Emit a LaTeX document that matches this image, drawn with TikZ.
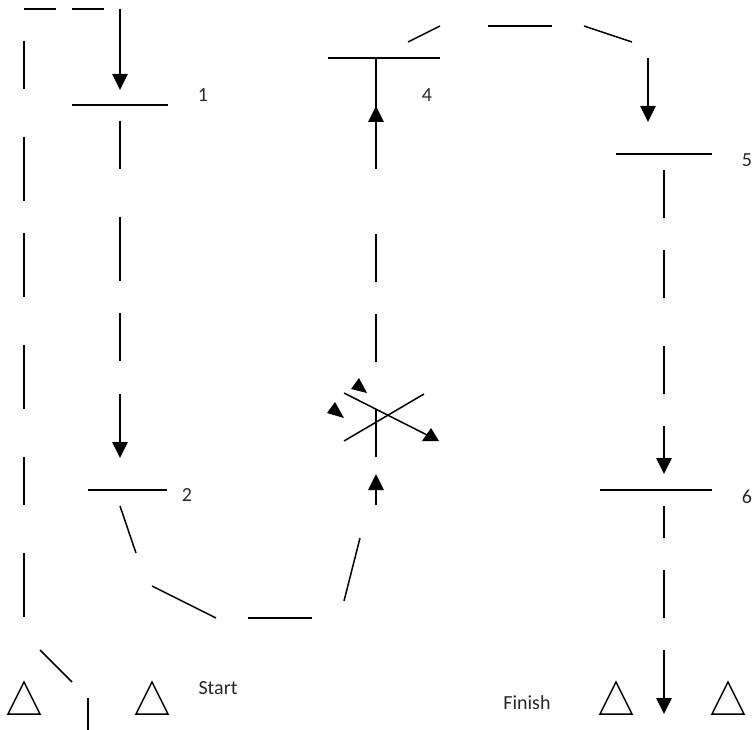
\documentclass[tikz,border=0pt]{standalone}
\usepackage{fontspec}
\setmainfont{Carlito}
\usetikzlibrary{arrows.meta}

\begin{document}
\begin{tikzpicture}[
	x=1pt, y=-1pt,
	seg/.style = {line width=1.5pt},
	gate/.style = {line width=1.5pt},
	run/.style = {
		line width=1.5pt,
		-{Triangle[width=15.5pt,length=16pt]},
	},
	tipmark/.style = {fill=black},
	cone/.style = {line width=1.5pt, line join=miter},
	tag/.style = {inner sep=0pt, font=\fontsize{20}{24}\selectfont, text=black!85},
]
\useasboundingbox (0,0) rectangle (752,730);

% Left side, back to the start
\draw[seg] (24,9) -- (56,9);
\draw[seg] (72,9) -- (104,9);
\foreach \ya/\yb in {41/89, 137/201, 233/297, 345/409, 457/505, 553/617} {
	\draw[seg] (24,\ya) -- (24,\yb);
}
\draw[seg] (40,650) -- (72,682);
\draw[seg] (88,698) -- (88,730);

% Gate 1
\draw[run] (120,9) -- (120,90);
\draw[gate] (72,105) -- (168,105);
\node[tag] (one) at (203,95) {1};
\foreach \ya/\yb in {121/169, 217/281, 313/361} {
	\draw[seg] (120,\ya) -- (120,\yb);
}
\draw[run] (120,394) -- (120,458);

% Gate 2
\draw[gate] (88,490) -- (167,490);
\node[tag] (two) at (187,495) {2};
\draw[seg] (120,506) -- (136,553);
\draw[seg] (152,586) -- (216,618);
\draw[seg] (248,618) -- (312,618);
\draw[seg] (344,601) -- (360,538);
\draw[run] (376,505) -- (376,474);

% Crossing
\draw[seg] (376,457) -- (376,410);
\draw[seg] (344,441) -- (424,394);
\draw[seg] (344,393) -- (431,437);
\fill[tipmark] (431,428) -- (422,441) -- (439,441) -- cycle;
\fill[tipmark] (359,378) -- (351,389) -- (367,393) -- cycle;
\fill[tipmark] (335,402) -- (327,413) -- (344,418) -- cycle;
\foreach \ya/\yb in {362/314, 282/234} {
	\draw[seg] (376,\ya) -- (376,\yb);
}

% Gate 4
\draw[run] (376,169) -- (376,106);
\draw[seg] (376,107) -- (376,58);
\draw[gate] (328,58) -- (440,58);
\node[tag] (four) at (427,95) {4};
\draw[seg] (408,42) -- (440,26);
\draw[seg] (488,26) -- (552,26);
\draw[seg] (584,26) -- (632,42);
\draw[run] (648,58) -- (648,122);

% Gate 5
\draw[gate] (616,154) -- (712,154);
\node[tag] (five) at (747,160) {5};
\foreach \ya/\yb in {170/218, 250/298, 346/394} {
	\draw[seg] (664,\ya) -- (664,\yb);
}
\draw[run] (664,426) -- (664,474);

% Gate 6
\draw[gate] (600,490) -- (712,490);
\node[tag] (six) at (747,497) {6};
\foreach \ya/\yb in {506/538, 570/618} {
	\draw[seg] (664,\ya) -- (664,\yb);
}
\draw[run] (664,650) -- (664,714);

% Cones
\foreach \xa in {24, 152, 616, 728} {
	\draw[cone] (\xa,682) -- (\xa-16,714) -- (\xa+16,714) -- cycle;
}
\node[tag] (start) at (218,688) {Start};
\node[tag] (finish) at (527,703) {Finish};

\end{tikzpicture}
\end{document}
